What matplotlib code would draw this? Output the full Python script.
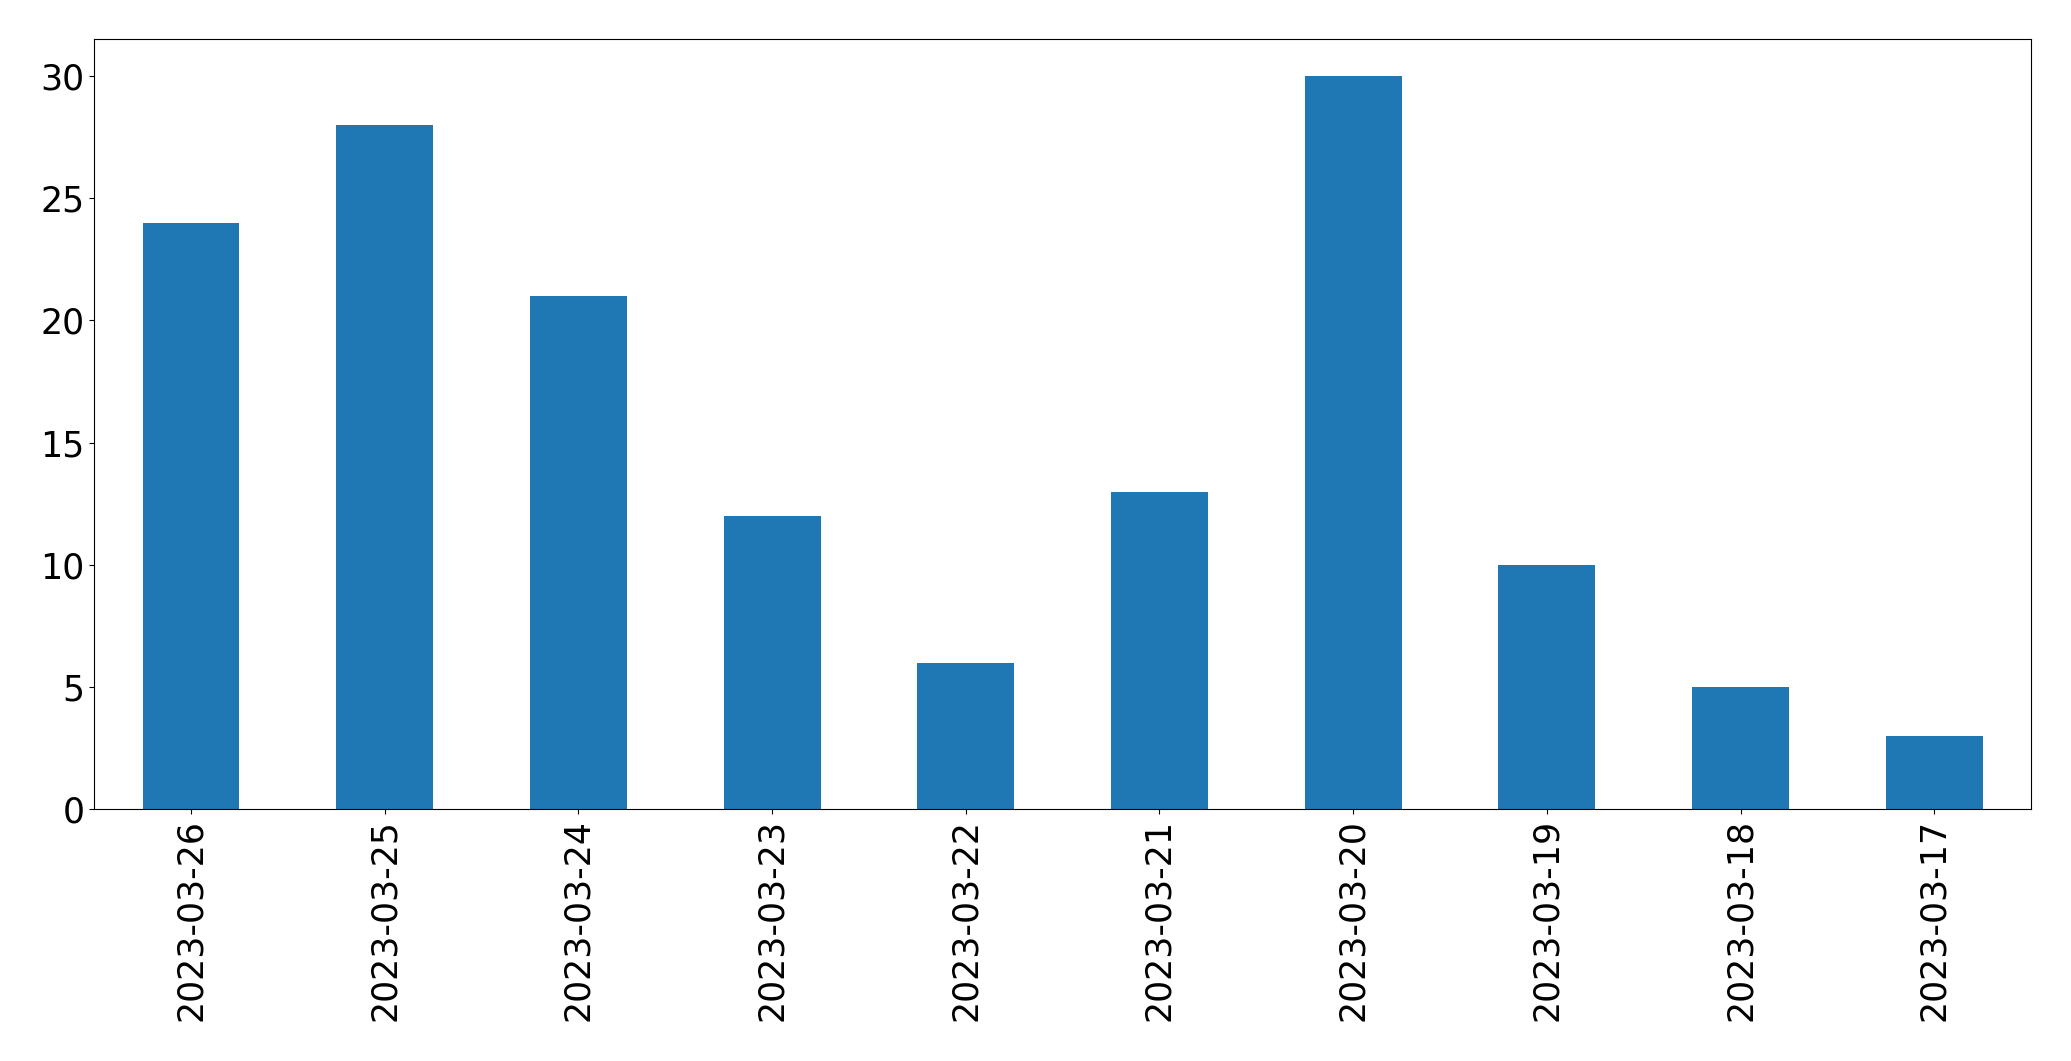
import matplotlib
matplotlib.use("Agg")
import matplotlib.pyplot as plt
import pandas as pd

dates = ["2023-03-26", "2023-03-25", "2023-03-24", "2023-03-23", "2023-03-22",
         "2023-03-21", "2023-03-20", "2023-03-19", "2023-03-18", "2023-03-17"]
counts = [24, 28, 21, 12, 6, 13, 30, 10, 5, 3]

series = pd.Series(counts, index=dates)

fig = plt.figure(figsize=(20.71, 10.61), dpi=100)
ax = fig.add_axes([0.0455, 0.2372, 0.9352, 0.7258])
series.plot(kind="bar", ax=ax, color="#1f77b4", fontsize=25)
ax.tick_params(axis="x", labelrotation=90)

fig.savefig("out.png", dpi=100)
